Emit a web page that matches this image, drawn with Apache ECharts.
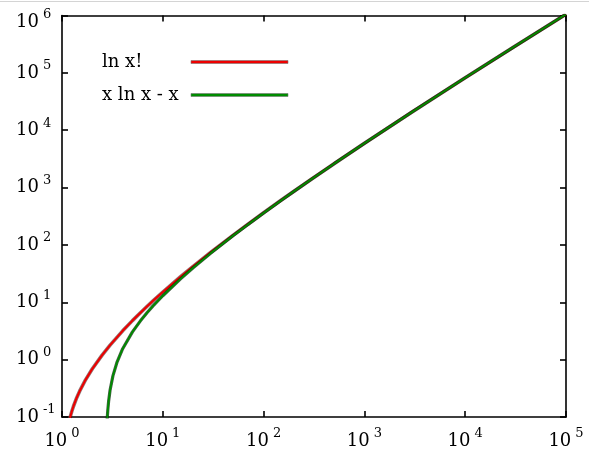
<!DOCTYPE html>
<html>
<head>
<meta charset="utf-8">
<script src="https://cdn.jsdelivr.net/npm/echarts@6/dist/echarts.min.js"></script>
<style>html,body{margin:0;padding:0;background:#fff}#c{width:589px;height:459px}</style>
</head>
<body>
<div id="c"></div>
<script>
// Values
var seriesNames = ['ln x!', 'x ln x - x'];
var lnFactX = [1.2, 1.25, 1.3, 1.4, 1.5, 1.7, 2, 2.5, 3, 4, 5, 6, 7, 8, 10, 15, 20, 30, 50, 70, 100, 150, 200, 300, 500, 1000, 3000, 10000, 30000, 100000];
var lnFactY = [0.097, 0.125, 0.154, 0.217, 0.285, 0.435, 0.693, 1.20, 1.79, 3.18, 4.79, 6.58, 8.53, 10.6, 15.1, 27.9, 42.3, 74.7, 148, 230, 364, 605, 863, 1415, 2611, 5912, 21024, 82109, 279275, 1051299];
var stirX = [2.8, 2.82, 2.85, 2.9, 3, 3.2, 3.5, 4, 5, 6, 7, 8, 10, 15, 20, 30, 50, 70, 100, 150, 200, 300, 500, 1000, 3000, 10000, 30000, 100000];
var stirY = [0.083, 0.104, 0.135, 0.188, 0.296, 0.522, 0.885, 1.55, 3.05, 4.75, 6.62, 8.64, 13.0, 25.6, 39.9, 72.0, 146, 227, 361, 602, 860, 1411, 2607, 5908, 21019, 82103, 279269, 1051293];
var xMin = 1, xMax = 100000, yMin = 0.1, yMax = 1000000;

function pairs(xs, ys) { return xs.map(function (x, i) { return [x, ys[i]]; }); }

var FONT = 'DejaVu Serif';
function expLabel(v) {
  var e = Math.round(Math.log(v) / Math.LN10);
  return '{b|10}{e|' + e + '}';
}
function yExpLabel(v) {
  var e = Math.round(Math.log(v) / Math.LN10);
  if (e === 6) return '{bt|10}{et|' + e + '}';
  return '{b|10}{e|' + e + '}';
}
var rich = {
  b: { fontFamily: FONT, fontSize: 18, lineHeight: 26, color: '#000' },
  e: { fontFamily: FONT, fontSize: 13, lineHeight: 12, padding: [0, 0, 14, 4], color: '#000' },
  bt: { fontFamily: FONT, fontSize: 18, lineHeight: 26, padding: [13, 0, 0, 0], color: '#000' },
  et: { fontFamily: FONT, fontSize: 13, lineHeight: 12, padding: [0, 0, 1, 4], color: '#000' }
};

var axisLine = { show: true, lineStyle: { color: '#000', width: 1.6 } };
var axisTick = { show: true, inside: true, length: 6, lineStyle: { color: '#000', width: 1.6 } };

var chart = echarts.init(document.getElementById('c'), null, { renderer: 'canvas' });
chart.setOption({
  animation: false,
  backgroundColor: '#fff',
  graphic: [{ type: 'rect', left: 0, top: 1, shape: { width: 589, height: 1 }, style: { fill: '#d4d4d4' } }],
  grid: { left: 62, right: 23, top: 12, bottom: 42, containLabel: false },
  legend: {
    data: seriesNames,
    orient: 'vertical',
    left: 102,
    top: 53,
    padding: 0,
    align: 'right',
    itemGap: 15,
    itemWidth: 97,
    itemHeight: 3,
    icon: 'rect',
    formatter: function (n) { return '{t|' + n + '}'; },
    textStyle: {
      rich: { t: { fontFamily: FONT, fontSize: 18, lineHeight: 20, width: 84, align: 'left', color: '#000' } }
    },
    itemStyle: { borderColor: '#777', borderWidth: 0.6 }
  },
  xAxis: [{
    type: 'log', logBase: 10, min: xMin, max: xMax, position: 'bottom',
    axisLine: axisLine, axisTick: axisTick, splitLine: { show: false }, minorTick: { show: false },
    axisLabel: { formatter: expLabel, rich: rich, margin: 11 }
  }, {
    type: 'log', logBase: 10, min: xMin, max: xMax, position: 'top',
    axisLine: axisLine, axisTick: axisTick, splitLine: { show: false }, axisLabel: { show: false }
  }],
  yAxis: [{
    type: 'log', logBase: 10, min: yMin, max: yMax, position: 'left', splitNumber: 7,
    axisLine: axisLine, axisTick: axisTick, splitLine: { show: false }, minorTick: { show: false },
    axisLabel: { formatter: yExpLabel, rich: rich, margin: 46, align: 'left' }
  }, {
    type: 'log', logBase: 10, min: yMin, max: yMax, position: 'right', splitNumber: 7,
    axisLine: axisLine, axisTick: axisTick, splitLine: { show: false }, axisLabel: { show: false }
  }],
  series: [
    { name: 'outline1', type: 'line', data: pairs(lnFactX, lnFactY), showSymbol: false, clip: true, silent: true,
      lineStyle: { color: 'rgba(60,0,0,0.55)', width: 3.6 }, z: 2 },
    { name: seriesNames[0], type: 'line', data: pairs(lnFactX, lnFactY), showSymbol: false, clip: true,
      itemStyle: { color: '#ee0000' }, lineStyle: { color: '#ee0000', width: 2.1 }, z: 3 },
    { name: 'outline2', type: 'line', data: pairs(stirX, stirY), showSymbol: false, clip: true, silent: true,
      lineStyle: { color: 'rgba(0,30,0,0.7)', width: 3.2 }, z: 4 },
    { name: seriesNames[1], type: 'line', data: pairs(stirX, stirY), showSymbol: false, clip: true,
      itemStyle: { color: '#008c00' }, lineStyle: { color: '#008c00', width: 1.9 }, z: 5 }
  ]
});
</script>
</body>
</html>
